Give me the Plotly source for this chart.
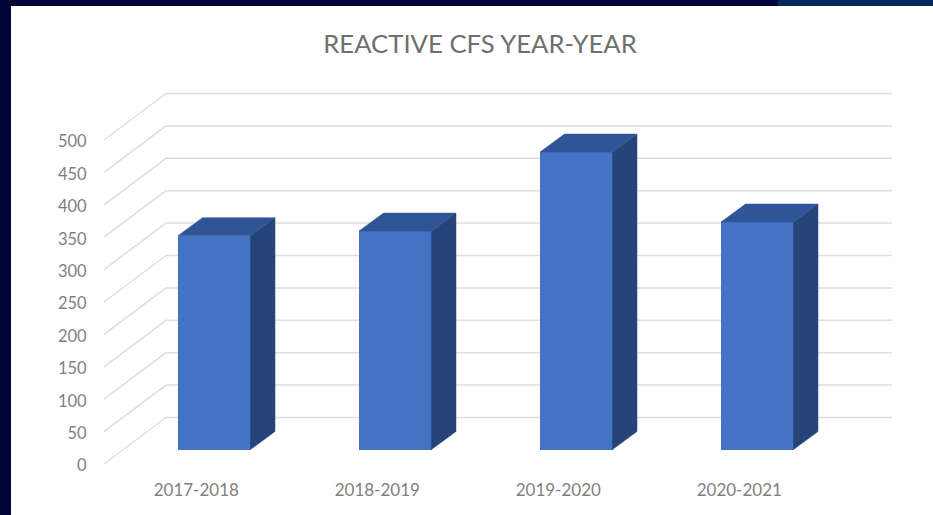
import plotly.graph_objects as go

# Data
categories = ["2017-2018", "2018-2019", "2019-2020", "2020-2021"]
values = [330, 337, 459, 351]
axis_ticks = [0, 50, 100, 150, 200, 250, 300, 350, 400, 450, 500]
title_text = "REACTIVE CFS YEAR-YEAR"

W, H = 933, 515
L, R, T, B = 92, 892, 88, 470          # plot area in window pixels
X0_PX, SLOT_PX, UNIT_PX = 214.25, 181.0, 0.648
BASE_PX = 449.5

x_range = [(L - X0_PX) / SLOT_PX, (R - X0_PX) / SLOT_PX]
y_range = [(BASE_PX - B) / UNIT_PX, (BASE_PX - T) / UNIT_PX]

BAR_W = 72.5 / SLOT_PX
DX, DY = 24.5 / SLOT_PX, 18 / UNIT_PX   # bar depth
WALL_X, WALL_DY = (166 - X0_PX) / SLOT_PX, (BASE_PX - 417.5) / UNIT_PX
FRONT_X, FRONT_DY = (104 - X0_PX) / SLOT_PX, (464 - BASE_PX) / UNIT_PX
LABEL_DY = 25
LABEL_DX = 18 / SLOT_PX                 # category labels sit on the front edge of the floor
idx = list(range(len(categories)))

px = lambda p: (p - L) / (R - L)
py = lambda p: (B - p) / (B - T)

GRID = dict(color="#dedede", width=1.5)
shapes = [
    dict(type="rect", xref="paper", yref="paper", x0=px(11), x1=px(W + 5), y0=py(6), y1=py(H + 5),
         fillcolor="#ffffff", line_width=0, layer="below"),
    dict(type="rect", xref="paper", yref="paper", x0=px(778), x1=px(W + 5), y0=py(-5), y1=py(6),
         fillcolor="#01295c", line_width=0, layer="below"),
]
for t in axis_ticks:
    shapes.append(dict(type="line", x0=FRONT_X, y0=t - FRONT_DY, x1=WALL_X, y1=t + WALL_DY,
                       line=GRID, layer="below"))
    shapes.append(dict(type="line", x0=WALL_X, y0=t + WALL_DY, x1=x_range[1], y1=t + WALL_DY,
                       line=GRID, layer="below"))

fig = go.Figure()
fig.add_bar(x=idx, y=values, width=BAR_W, marker=dict(color="#4472c4", line_width=0), showlegend=False)

for i, v in zip(idx, values):
    xl, xr = i - BAR_W / 2, i + BAR_W / 2
    fig.add_scatter(x=[xr, xr + DX, xr + DX, xr, xr], y=[0, DY, v + DY, v, 0], mode="lines",
                    fill="toself", fillcolor="#264478", line=dict(color="#264478", width=0.5),
                    showlegend=False, hoverinfo="skip")
    fig.add_scatter(x=[xl, xl + DX, xr + DX, xr, xl], y=[v, v + DY, v + DY, v, v], mode="lines",
                    fill="toself", fillcolor="#2f5597", line=dict(color="#2f5597", width=0.5),
                    showlegend=False, hoverinfo="skip")

fig.update_layout(
    width=W, height=H, autosize=False,
    margin=dict(l=L, r=W - R, t=T, b=H - B, pad=0),
    paper_bgcolor="#00053a", plot_bgcolor="rgba(0,0,0,0)",
    font=dict(family="Lato, Open Sans, sans-serif", color="#808080"),
    title=dict(text=title_text, x=480 / W, xanchor="center", y=1 - 44 / H, yanchor="middle",
               font=dict(size=25.7, color="#6f6f6f", family="Lato, Open Sans, sans-serif")),
    xaxis=dict(range=x_range, tickvals=[i - LABEL_DX for i in idx], ticktext=categories, showgrid=False,
               zeroline=False, showline=False, ticks="outside", ticklen=5, tickcolor="rgba(0,0,0,0)",
               tickfont=dict(size=17, color="#7f7f7f")),
    yaxis=dict(range=y_range, tickvals=[t - LABEL_DY for t in axis_ticks], ticktext=[str(t) for t in axis_ticks],
               showgrid=False, zeroline=False, showline=False, ticks="outside", ticklen=1,
               tickcolor="rgba(0,0,0,0)", tickfont=dict(size=16.5, color="#7f7f7f")),
    shapes=shapes,
    bargap=0,
)

fig.write_html("out.html", config=dict(displayModeBar=False),
               post_script="document.body.style.margin='0';document.body.style.overflow='hidden';")
